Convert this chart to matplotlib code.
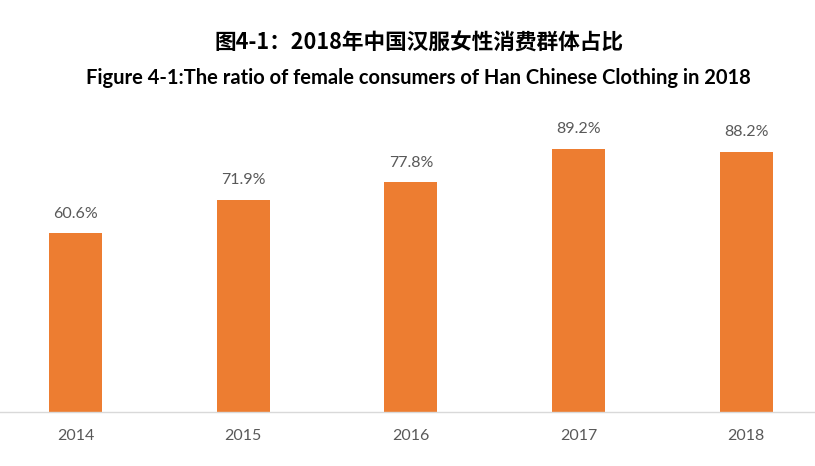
import matplotlib
matplotlib.use("Agg")
import matplotlib.pyplot as plt

years = ["2014", "2015", "2016", "2017", "2018"]
female_ratio = [60.6, 71.9, 77.8, 89.2, 88.2]

title_cn = "图4-1：2018年中国汉服女性消费群体占比"
title_en = "Figure 4-1:The ratio of female consumers of Han Chinese Clothing in 2018"

bar_color = "#ED7D31"
text_gray = "#595959"

fig = plt.figure(figsize=(8.15, 4.66), dpi=100)
ax = fig.add_axes([0, 1 - 412 / 466, 1, 295 / 466])

x = list(range(len(years)))
ax.bar(x, female_ratio, width=0.316, color=bar_color, zorder=2)
for xi, v in zip(x, female_ratio):
    ax.annotate("{:.1f}%".format(v), xy=(xi, v), xytext=(0, 9), textcoords="offset points",
                ha="center", va="bottom", fontsize=11.5, color=text_gray, family="Lato")

ax.set_xlim(-0.45, 4.41)
ax.set_ylim(0, 100)
ax.set_xticks(x)
ax.set_xticklabels(years, fontsize=11.5, color=text_gray, family="Lato")
ax.tick_params(axis="x", length=0, pad=12)
ax.set_yticks([])
for side in ["top", "left", "right"]:
    ax.spines[side].set_visible(False)
ax.spines["bottom"].set_color("#D9D9D9")
ax.spines["bottom"].set_linewidth(1)

# titles sit a little right of the figure centre in the original
fig.text(419 / 815, 1 - 43 / 466, title_cn, ha="center", va="center", fontsize=15.6,
         fontweight="bold", family=["Noto Sans CJK SC", "DejaVu Sans"], color="#000000")
fig.text(418 / 815, 1 - 78 / 466, title_en, ha="center", va="center", fontsize=14.5,
         fontweight="bold", family="Lato", color="#000000")

fig.savefig("out.png", dpi=100)
